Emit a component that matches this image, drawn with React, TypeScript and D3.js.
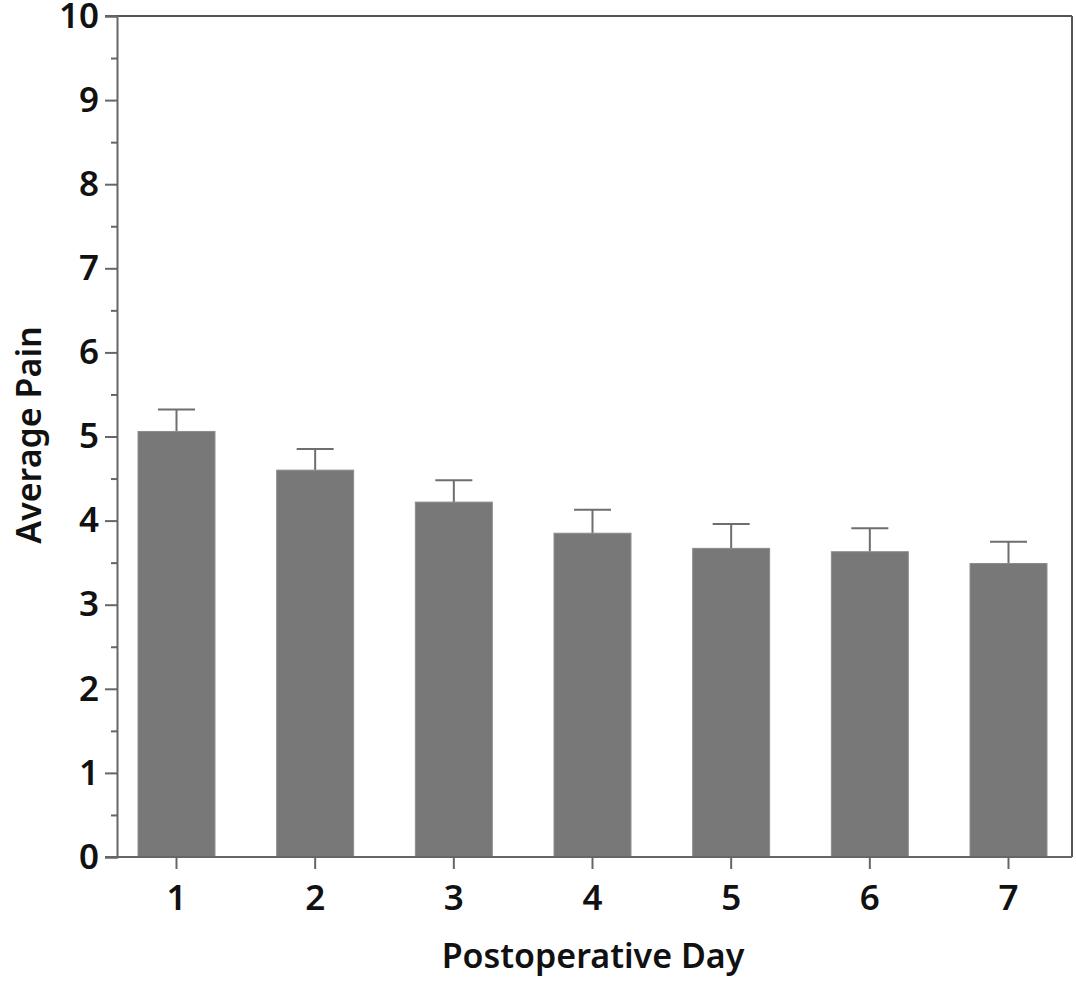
import React, { useEffect, useRef } from 'react';
import * as d3 from 'd3';

const days = ['1', '2', '3', '4', '5', '6', '7'];
const meanPain = [5.06, 4.6, 4.22, 3.85, 3.67, 3.63, 3.49];
const upperError = [5.32, 4.85, 4.48, 4.13, 3.96, 3.91, 3.75];
const yTicks = [0, 1, 2, 3, 4, 5, 6, 7, 8, 9, 10];
const yMinorTicks = [0.5, 1.5, 2.5, 3.5, 4.5, 5.5, 6.5, 7.5, 8.5, 9.5];

const App: React.FC = () => {
  const svgRef = useRef<SVGSVGElement>(null);

  useEffect(() => {
    if (!svgRef.current) return;
    const W = 1076;
    const H = 981;
    const left = 117, right = 1072, top = 16, bottom = 857;
    const font = '"Noto Sans", "Open Sans", sans-serif';

    const svg = d3.select(svgRef.current);
    svg.selectAll('*').remove();
    svg.attr('width', W).attr('height', H);

    const x = d3.scaleBand<string>()
      .domain(days)
      .range([left - 2, right - 2])
      .paddingInner(0.445)
      .paddingOuter(0.166);

    const y = d3.scaleLinear().domain([0, 10]).range([bottom, top]);

    const data = days.map((d, i) => ({ day: d, mean: meanPain[i], hi: upperError[i] }));

    // error bars (drawn first so bars cover lower part)
    const capHalf = 18.5;
    const eb = svg.append('g').attr('stroke', '#6e6e6e').attr('stroke-width', 2);
    data.forEach(d => {
      const cx = (x(d.day) as number) + x.bandwidth() / 2;
      eb.append('line').attr('x1', cx).attr('x2', cx).attr('y1', y(d.mean)).attr('y2', y(d.hi));
      eb.append('line').attr('x1', cx - capHalf).attr('x2', cx + capHalf).attr('y1', y(d.hi)).attr('y2', y(d.hi));
    });

    // bars
    svg.append('g')
      .selectAll('rect')
      .data(data)
      .enter()
      .append('rect')
      .attr('x', d => x(d.day) as number)
      .attr('y', d => y(d.mean))
      .attr('width', x.bandwidth())
      .attr('height', d => y(0) - y(d.mean))
      .attr('fill', '#787878')
      .attr('stroke', '#8c8c8c')
      .attr('stroke-width', 1);

    // frame: top and right
    svg.append('line').attr('x1', 105).attr('x2', right).attr('y1', top).attr('y2', top)
      .attr('stroke', '#555').attr('stroke-width', 2);
    svg.append('line').attr('x1', right).attr('x2', right).attr('y1', top).attr('y2', bottom)
      .attr('stroke', '#555').attr('stroke-width', 2);

    // y axis
    const yAxis = svg.append('g')
      .attr('transform', `translate(${left},0)`)
      .call(d3.axisLeft(y).tickValues(yTicks).tickSize(12).tickPadding(6).tickFormat(d3.format('d')));
    yAxis.select('.domain').attr('stroke', '#666').attr('stroke-width', 2);
    yAxis.selectAll('.tick line').attr('stroke', '#666').attr('stroke-width', 2);
    yAxis.selectAll('.tick text')
      .attr('font-family', font).attr('font-weight', 600).attr('font-size', 35).attr('fill', '#111');

    const yMinor = svg.append('g')
      .attr('transform', `translate(${left},0)`)
      .call(d3.axisLeft(y).tickValues(yMinorTicks).tickSize(6).tickFormat(() => ''));
    yMinor.select('.domain').remove();
    yMinor.selectAll('.tick line').attr('stroke', '#666').attr('stroke-width', 2);

    // x axis
    const xAxis = svg.append('g')
      .attr('transform', `translate(0,${bottom})`)
      .call(d3.axisBottom(x).tickSize(12).tickPadding(16).tickSizeOuter(0));
    xAxis.select('.domain').attr('stroke', '#666').attr('stroke-width', 2)
      .attr('d', `M${105},0H${right}`);
    xAxis.selectAll('.tick line').attr('stroke', '#666').attr('stroke-width', 2);
    xAxis.selectAll('.tick text')
      .attr('font-family', font).attr('font-weight', 600).attr('font-size', 35).attr('fill', '#111');

    // titles
    svg.append('text')
      .attr('x', 593)
      .attr('y', 968)
      .attr('text-anchor', 'middle')
      .attr('font-family', font).attr('font-weight', 600).attr('font-size', 34).attr('fill', '#111')
      .text('Postoperative Day');

    svg.append('text')
      .attr('transform', `translate(41,435) rotate(-90)`)
      .attr('text-anchor', 'middle')
      .attr('font-family', font).attr('font-weight', 600).attr('font-size', 34).attr('fill', '#111')
      .text('Average Pain');
  }, []);

  return (
    <div style={{ position: 'absolute', left: 0, top: 0, background: '#fff' }}>
      <svg ref={svgRef} style={{ display: 'block' }} />
    </div>
  );
};

export default App;
